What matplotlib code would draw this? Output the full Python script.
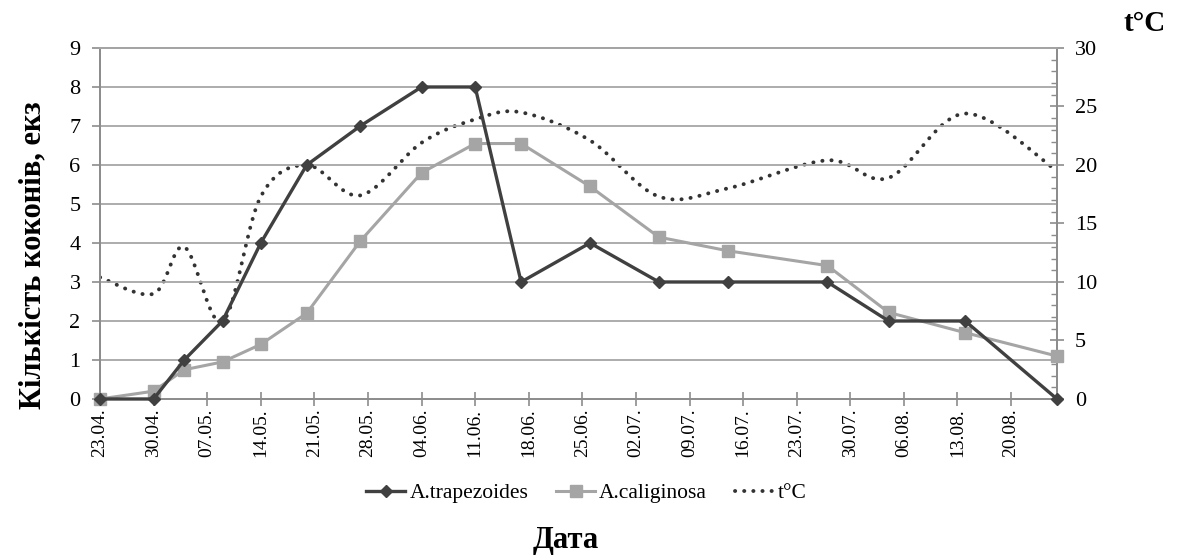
import matplotlib
matplotlib.use("Agg")
import matplotlib.pyplot as plt
from matplotlib.ticker import MultipleLocator
import numpy as np

# days counted from 23.04
days = [0, 7, 11, 16, 21, 27, 34, 42, 49, 55, 64, 73, 82, 95, 103, 113, 125]
trapezoides = [0, 0, 1, 2, 4, 6, 7, 8, 8, 3, 4, 3, 3, 3, 2, 2, 0]
caliginosa = [0, 0.2, 0.75, 0.95, 1.4, 2.2, 4.05, 5.8, 6.55, 6.55, 5.45, 4.15, 3.8, 3.42, 2.22, 1.7, 1.1]
temperature = [10.4, 9.0, 13.0, 6.6, 17.3, 20.0, 17.4, 21.9, 23.9, 24.5, 22.1, 17.3, 18.0, 20.4, 18.9, 24.4, 19.5]

tick_days = list(range(0, 120, 7))
tick_labels = ['23.04.', '30.04.', '07.05.', '14.05.', '21.05.', '28.05.', '04.06.', '11.06.', '18.06.',
               '25.06.', '02.07.', '09.07.', '16.07.', '23.07.', '30.07.', '06.08.', '13.08.', '20.08.']


def smooth_line(x, y, n=24):
    # Excel-like smoothed line (cubic Bezier through each point)
    p = np.column_stack([x, y]).astype(float)
    out = [p[0]]
    t = np.linspace(0, 1, n)[1:, None]
    for i in range(len(p) - 1):
        p0 = p[i - 1] if i > 0 else p[i]
        p1, p2 = p[i], p[i + 1]
        p3 = p[i + 2] if i + 2 < len(p) else p[i + 1]
        c1 = p1 + (p2 - p0) / 6
        c2 = p2 - (p3 - p1) / 6
        seg = (1 - t) ** 3 * p1 + 3 * (1 - t) ** 2 * t * c1 + 3 * (1 - t) * t ** 2 * c2 + t ** 3 * p2
        out.extend(seg)
    out = np.array(out)
    return out[:, 0], out[:, 1]


plt.rcParams['font.family'] = ['Liberation Serif', 'DejaVu Serif']

fig = plt.figure(figsize=(11.78, 5.56), dpi=100)
ax = fig.add_axes([0.0849, 0.2824, 0.8124, 0.6313])
ax2 = ax.twinx()

grey = '#a6a6a6'
ax.set_xlim(0, 125)
ax.set_ylim(0, 9)
ax2.set_ylim(0, 30)
ax.yaxis.set_major_locator(MultipleLocator(1))
ax2.yaxis.set_major_locator(MultipleLocator(5))
ax2.yaxis.set_minor_locator(MultipleLocator(1))
ax.set_xticks(tick_days)
ax.set_xticklabels(tick_labels, rotation=90)

ax.grid(axis='y', color=grey, linewidth=1.3)
ax.set_axisbelow(True)
for a in (ax, ax2):
    for s in a.spines.values():
        s.set_color('#8c8c8c')
        s.set_linewidth(1.3)
ax.spines['top'].set_color(grey)

ax.tick_params(axis='y', direction='out', length=6, width=1.2, color='#8c8c8c', labelsize=16, pad=8)
ax.tick_params(axis='x', direction='inout', length=10, width=1.2, color='#8c8c8c', labelsize=14, pad=2)
ax2.tick_params(axis='y', which='major', direction='inout', length=10, width=1.2, color='#8c8c8c',
                labelsize=16, pad=8)
ax2.tick_params(axis='y', which='minor', direction='in', length=4, width=1, color='#8c8c8c')

l1, = ax.plot(days, trapezoides, color='#404040', linewidth=2.4, marker='D', markersize=6.5,
              label='A.trapezoides', zorder=4, clip_on=False)
l2, = ax.plot(days, caliginosa, color='#a5a5a5', linewidth=2.2, marker='s', markersize=9,
              label='A.caliginosa', zorder=3, clip_on=False)
ax.set_zorder(ax2.get_zorder() + 1)
ax.patch.set_visible(False)
tx, ty = smooth_line(days, temperature)
l3, = ax2.plot(tx, ty, color='#333333', linewidth=2.8, linestyle=(0, (0.05, 2.3)),
               dash_capstyle='round', label='t°C')

ax.set_ylabel('Кількість коконів, екз', fontsize=22, fontweight='bold')
ax.yaxis.set_label_coords(-0.055, 0.41)
fig.text(0.48, 0.027, 'Дата', fontsize=22, fontweight='bold', ha='center', va='center')
fig.text(0.972, 0.957, 't°C', fontsize=21, fontweight='bold', ha='center', va='center')

fig.legend(handles=[l1, l2, l3], loc='center', bbox_to_anchor=(0.498, 0.113), ncol=3, frameon=False,
           fontsize=15.5, handlelength=1.8, handletextpad=0.2, columnspacing=1.3)

fig.savefig('out.png', dpi=100)
